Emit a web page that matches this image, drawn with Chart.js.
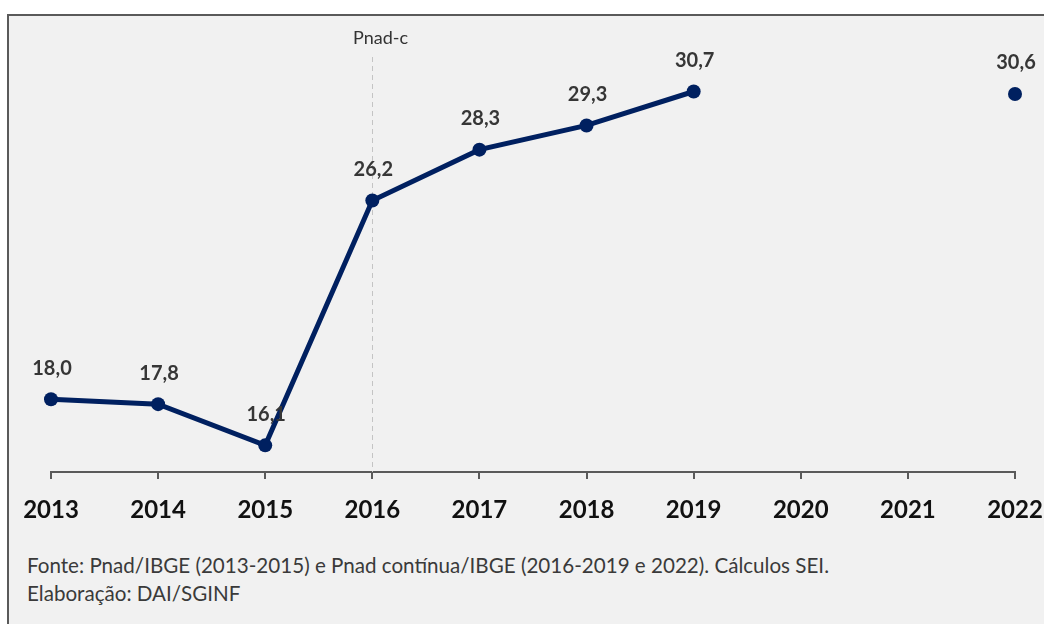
<!DOCTYPE html>
<html lang="pt-BR">
<head>
<meta charset="UTF-8" />
<title>Pnad 2013-2022</title>
<script src="https://cdn.jsdelivr.net/npm/chart.js"></script>
<style>
  html, body { margin: 0; padding: 0; background: #fff; }
  body { width: 1044px; height: 624px; overflow: hidden; position: relative; font-family: Lato, "Open Sans", sans-serif; }
  #panel {
    position: absolute; left: 7px; top: 14px; width: 1060px; height: 610px;
    background: #f1f1f1; border-left: 2px solid #5a5a5a; border-top: 2px solid #5a5a5a;
  }
  #chartBox { position: absolute; left: 0; top: 0; width: 1060px; height: 526px; }
  .note { position: absolute; left: 18px; color: #3a3a3a; font-size: 20.6px; white-space: nowrap; }
</style>
</head>
<body>
<div id="panel">
  <div id="chartBox"><canvas id="chart"></canvas></div>
  <div class="note" style="top:537px">Fonte: Pnad/IBGE (2013-2015) e Pnad contínua/IBGE (2016-2019 e 2022). Cálculos SEI.</div>
  <div class="note" style="top:565px">Elaboração: DAI/SGINF</div>
</div>
<script>
  // anos e valores (2020 e 2021 sem dado)
  const years = ["2013", "2014", "2015", "2016", "2017", "2018", "2019", "2020", "2021", "2022"];
  const values = [18.0, 17.8, 16.1, 26.2, 28.3, 29.3, 30.7, null, null, 30.6];
  const breakYear = "2016";
  const breakLabel = "Pnad-c";

  const navy = "#002060";

  // linha tracejada da mudança de pesquisa
  const breakLine = {
    id: "breakLine",
    beforeDatasetsDraw(chart) {
      const { ctx, chartArea, scales } = chart;
      const x = Math.round(scales.x.getPixelForValue(years.indexOf(breakYear))) + 0.5;
      ctx.save();
      ctx.strokeStyle = "#c4c4c4";
      ctx.lineWidth = 1;
      ctx.setLineDash([5, 4]);
      ctx.beginPath();
      ctx.moveTo(x, chartArea.top - 3);
      ctx.lineTo(x, chartArea.bottom);
      ctx.stroke();
      ctx.setLineDash([]);
      ctx.fillStyle = "#333";
      ctx.font = "18px Lato, sans-serif";
      ctx.textAlign = "center";
      ctx.textBaseline = "middle";
      ctx.fillText(breakLabel, x + 8, chartArea.top - 22);
      ctx.restore();
    }
  };

  // rótulos de valor acima dos pontos
  const valueLabels = {
    id: "valueLabels",
    afterDatasetsDraw(chart) {
      const { ctx } = chart;
      const meta = chart.getDatasetMeta(0);
      ctx.save();
      ctx.fillStyle = "#363636";
      ctx.font = "bold 20px Lato, sans-serif";
      ctx.textAlign = "center";
      ctx.textBaseline = "middle";
      meta.data.forEach((pt, i) => {
        if (values[i] == null) return;
        ctx.fillText(values[i].toFixed(1).replace(".", ","), pt.x + 1, pt.y - 31);
      });
      ctx.restore();
    }
  };

  new Chart(document.getElementById("chart"), {
    type: "line",
    data: {
      labels: years,
      datasets: [{
        data: values,
        borderColor: navy,
        borderWidth: 5,
        backgroundColor: navy,
        pointBackgroundColor: navy,
        pointBorderWidth: 0,
        pointRadius: 7,
        spanGaps: false,
        tension: 0
      }]
    },
    options: {
      responsive: true,
      maintainAspectRatio: false,
      animation: false,
      layout: { padding: { left: 42, right: 54, top: 44, bottom: 0 } },
      plugins: { legend: { display: false }, tooltip: { enabled: false } },
      scales: {
        x: {
          offset: false,
          grid: { drawOnChartArea: false, drawTicks: true, tickLength: 7, color: "#5a5a5a", lineWidth: 2 },
          border: { display: true, color: "#5a5a5a", width: 2 },
          ticks: { color: "#111", font: { family: "Lato", size: 24, weight: "bold" }, padding: 17, maxRotation: 0, autoSkip: false },
          afterFit(scale) {
            scale.height = 70;
            scale.paddingLeft = 0;
            scale.paddingRight = 0;
          }
        },
        y: {
          display: false,
          min: 15,
          max: 32
        }
      }
    },
    plugins: [breakLine, valueLabels]
  });
</script>
</body>
</html>
